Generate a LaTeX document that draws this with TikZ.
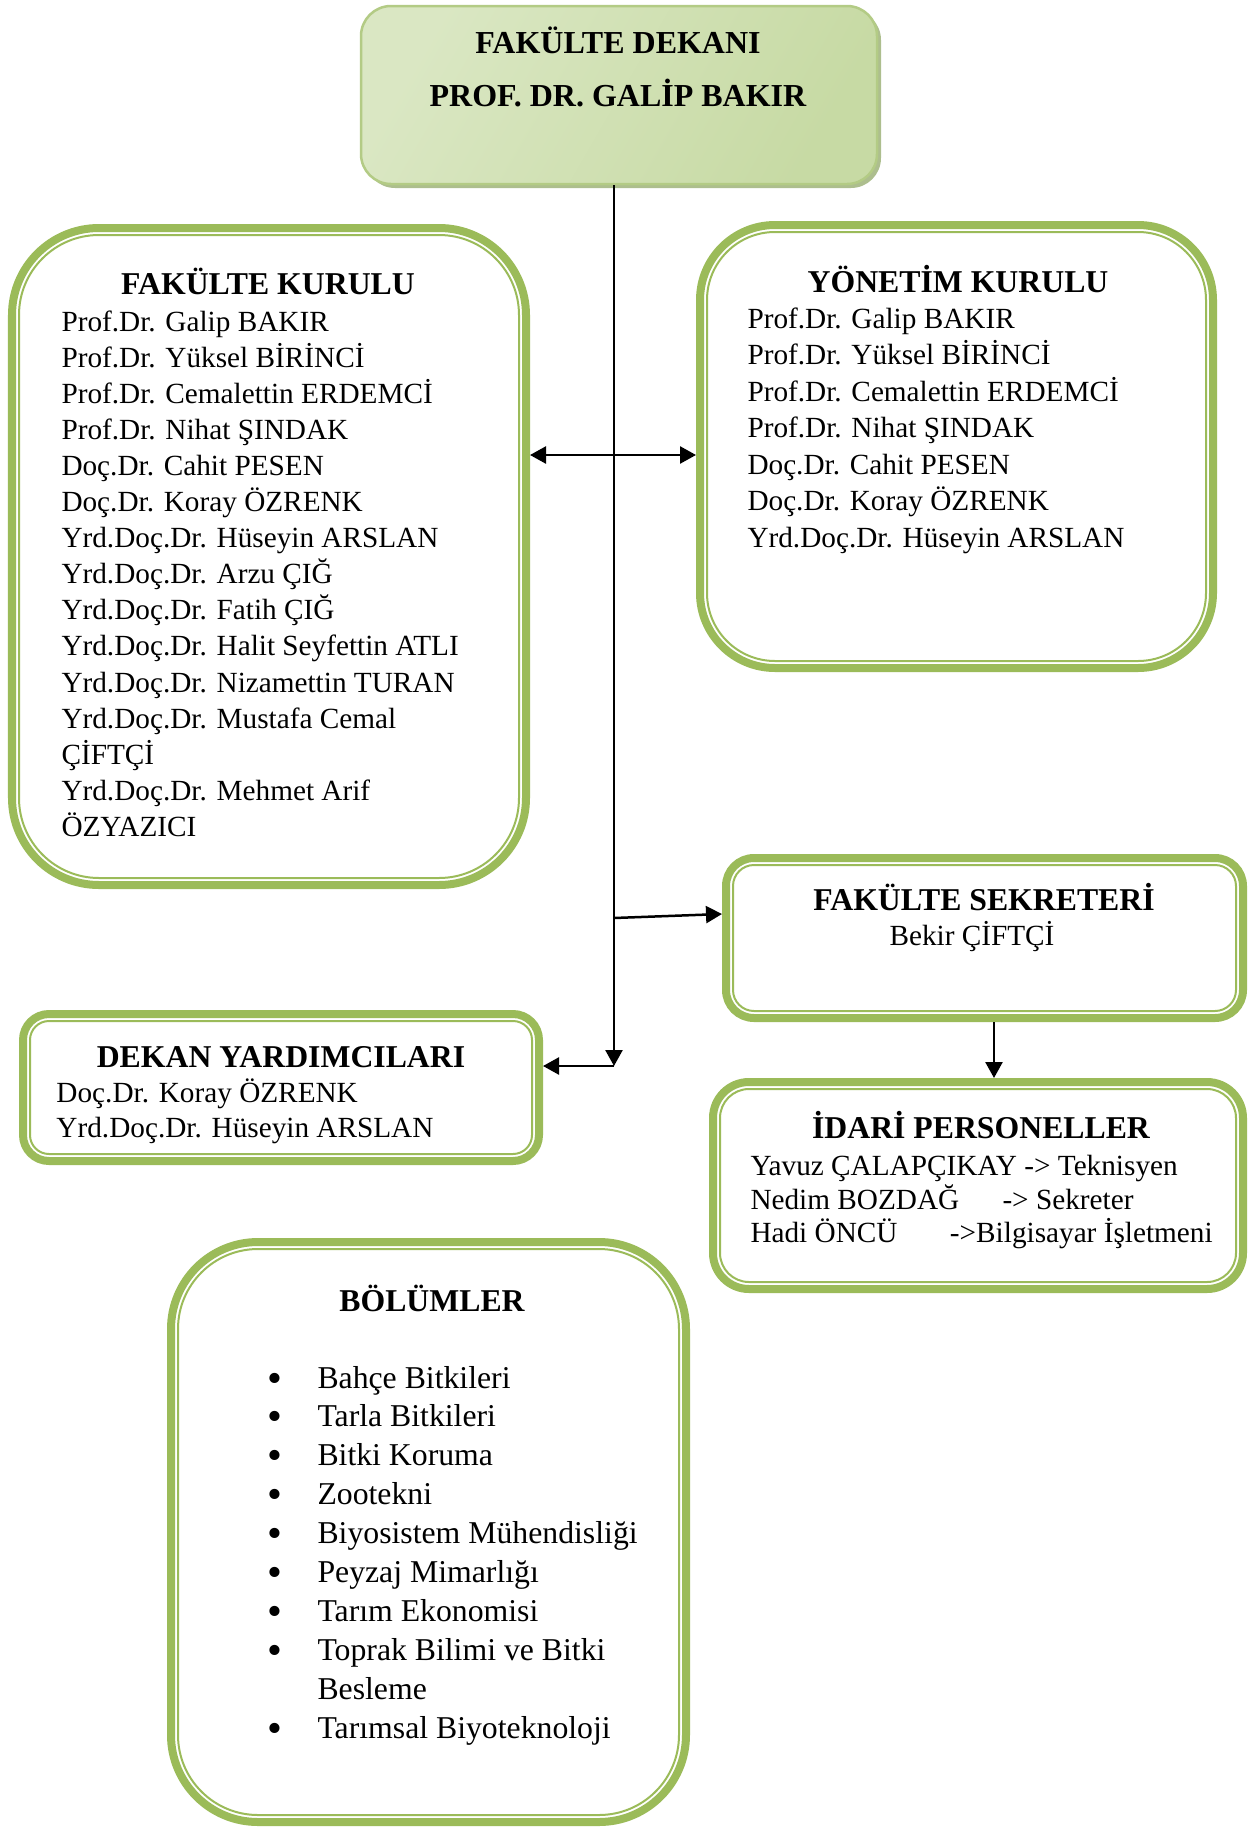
\documentclass[tikz,border=0pt]{standalone}
\usepackage{fontspec}
\setmainfont{Liberation Serif}
\usetikzlibrary{positioning,shadows,arrows.meta,fit,calc}
\definecolor{grn}{HTML}{9BBB59}
\definecolor{deanline}{HTML}{B3CB85}
\definecolor{deanshadow}{HTML}{98AE72}
\definecolor{deanA}{HTML}{DAE7C3}
\definecolor{deanB}{HTML}{F0F6E8}
\definecolor{deanC}{HTML}{C7DAA4}

\begin{document}
\begin{tikzpicture}[x=0.4pt,y=-0.4pt]
\tikzstyle{gbox} = [draw=grn,line width=3.2pt,fill=white,inner sep=0pt,shape=rectangle]
\tikzstyle{gline} = [draw=grn,line width=0.8pt]
\tikzstyle{dean} = [draw=deanline,line width=1pt,inner sep=0pt,rounded corners=12pt,
  left color=deanA,middle color=deanB,right color=deanC,shading angle=60,
  drop shadow={shadow xshift=1.6pt,shadow yshift=-1.6pt,fill=deanshadow,opacity=0.8}]
\tikzstyle{ttl} = [inner sep=0pt,font=\fontsize{12.7}{15}\selectfont\bfseries,anchor=base]
\tikzstyle{txt} = [inner sep=0pt,font=\fontsize{11.7}{14}\selectfont,anchor=base west]
\tikzstyle{lst} = [inner sep=0pt,font=\fontsize{12.7}{15}\selectfont,anchor=base west]
\tikzstyle{bul} = [inner sep=0pt,font=\fontsize{17}{18}\selectfont,text height=6pt,text depth=0pt,anchor=base]
\tikzstyle{arr} = [-{Triangle[length=6.4pt,width=6.8pt]},line width=1pt]
\tikzstyle{arrs} = [{Triangle[length=6.4pt,width=6.8pt]}-{Triangle[length=6.4pt,width=6.8pt]},line width=1pt]

\useasboundingbox (0,0) rectangle (1250,1827);

% boxes
\node[dean,fit={(361,6) (877,184)}] (dean) {};
\node[gbox,rounded corners=34.8pt,fit={(12,228) (526,885)}] (fk) {};
\node[gbox,rounded corners=30pt,fit={(700,225) (1213,668)}] (yk) {};
\node[gbox,rounded corners=11.2pt,fit={(726,858) (1243,1018)}] (fs) {};
\node[gbox,rounded corners=14.4pt,fit={(713,1082) (1243,1289)}] (ip) {};
\node[gbox,rounded corners=10.4pt,fit={(23,1014) (539,1161)}] (dy) {};
\node[gbox,rounded corners=34.8pt,fit={(171,1242) (686,1822)}] (bl) {};

% thin inner lines
\foreach \n/\r in {fk/32pt,yk/27.2pt,fs/8.4pt,ip/11.6pt,dy/7.6pt,bl/32pt}
  \draw[gline,rounded corners=\r] ([shift={(4.4pt,-4.4pt)}]\n.north west) rectangle ([shift={(-4.4pt,4.4pt)}]\n.south east);

% dean
\node[ttl,font=\fontsize{12.8}{15}\selectfont\bfseries] (deant) at (618,53) {FAKÜLTE DEKANI};
\node[ttl,font=\fontsize{12.8}{15}\selectfont\bfseries] (deann) at (618,106) {PROF. DR. GALİP BAKIR};

% fakulte kurulu
\node[ttl] (fkt) at (268,294) {FAKÜLTE KURULU};
\foreach \t [count=\i from 0] in {Prof.Dr. Galip BAKIR,Prof.Dr. Yüksel BİRİNCİ,
  Prof.Dr. Cemalettin ERDEMCİ,Prof.Dr. Nihat ŞINDAK,Doç.Dr. Cahit PESEN,
  Doç.Dr. Koray ÖZRENK,Yrd.Doç.Dr. Hüseyin ARSLAN,Yrd.Doç.Dr. Arzu ÇIĞ,
  Yrd.Doç.Dr. Fatih ÇIĞ,Yrd.Doç.Dr. Halit Seyfettin ATLI,Yrd.Doç.Dr. Nizamettin TURAN,
  Yrd.Doç.Dr. Mustafa Cemal,ÇİFTÇİ,Yrd.Doç.Dr. Mehmet Arif,ÖZYAZICI}
  \node[txt] (fk\i) at (61,331+\i*36.1) {\t};

% yonetim kurulu
\node[ttl] (ykt) at (958,292) {YÖNETİM KURULU};
\foreach \t [count=\i from 0] in {Prof.Dr. Galip BAKIR,Prof.Dr. Yüksel BİRİNCİ,
  Prof.Dr. Cemalettin ERDEMCİ,Prof.Dr. Nihat ŞINDAK,Doç.Dr. Cahit PESEN,
  Doç.Dr. Koray ÖZRENK,Yrd.Doç.Dr. Hüseyin ARSLAN}
  \node[txt] (yk\i) at (747,328+\i*36.5) {\t};

% sekreter
\node[ttl] (fst) at (984,910) {FAKÜLTE SEKRETERİ};
\node[txt,anchor=base] (fs0) at (972,945) {Bekir ÇİFTÇİ};

% idari personel
\node[ttl] (ipt) at (981,1138) {İDARİ PERSONELLER};
\node[txt] (ip0) at (750,1175) {Yavuz ÇALAPÇIKAY -> Teknisyen};
\node[txt] (ip1) at (750,1209) {\rlap{Nedim BOZDAĞ}\hspace{100.8pt}-> Sekreter};
\node[txt] (ip2) at (750,1242) {\rlap{Hadi ÖNCÜ}\hspace{79.8pt}->Bilgisayar İşletmeni};

% dekan yardimcilari
\node[ttl] (dyt) at (281,1067) {DEKAN YARDIMCILARI};
\node[txt] (dy0) at (56,1102) {Doç.Dr. Koray ÖZRENK};
\node[txt] (dy1) at (56,1137) {Yrd.Doç.Dr. Hüseyin ARSLAN};

% bolumler
\node[ttl] (blt) at (432,1311) {BÖLÜMLER};
\foreach \t [count=\i from 0] in {Bahçe Bitkileri,Tarla Bitkileri,Bitki Koruma,Zootekni,
  Biyosistem Mühendisliği,Peyzaj Mimarlığı,Tarım Ekonomisi,Toprak Bilimi ve Bitki,
  Besleme,Tarımsal Biyoteknoloji}
  \node[lst] (bl\i) at (317,1388+\i*38.9) {\t};
\foreach \i in {0,...,7,9}
  \node[bul] (bu\i) at (275,1392+\i*38.9) {•};

% connectors
\coordinate (jk) at (614,455);
\coordinate (jfs) at (614,918);
\coordinate (jdy) at (614,1066);
\coordinate (jip) at (994,0);
\draw[arr] (dean.south -| jdy) -- (jdy);
\draw[arrs] (fk.east |- jk) -- (yk.west |- jk);
\draw[arr] (jfs) -- ([yshift=9.6pt]fs.west);
\draw[arr] (jdy) -- (dy.east |- jdy);
\draw[arr] (fs.south -| jip) -- (ip.north -| jip);
\end{tikzpicture}
\end{document}
